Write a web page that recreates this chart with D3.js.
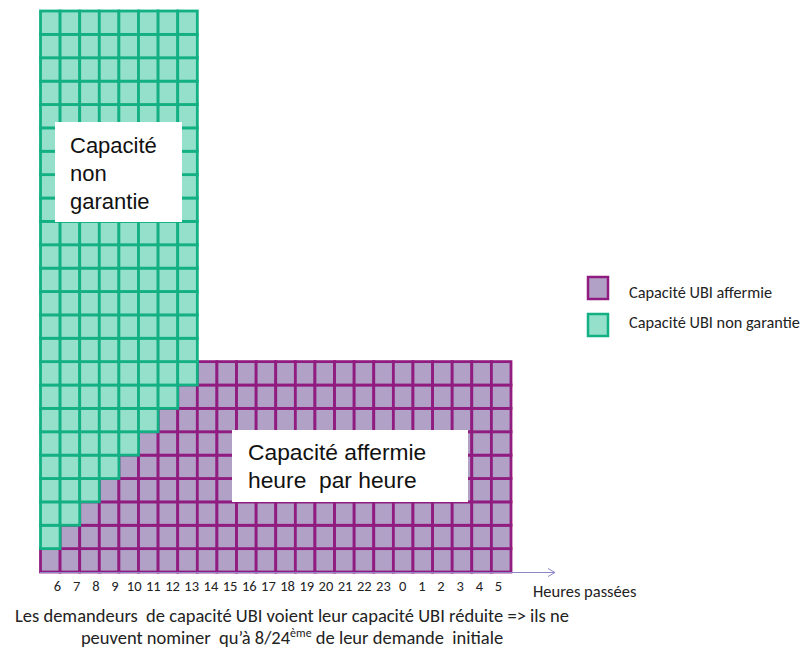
<!doctype html>
<html>
<head>
<meta charset="UTF-8">
<script src="https://cdn.jsdelivr.net/npm/d3@7"></script>
<style>
  body { margin: 0; background: #fff; }
  text { white-space: pre; }
  .cal { font-family: Carlito, Calibri, Lato, sans-serif; fill: #222; }
  .ar { font-family: "Liberation Sans", Arial, sans-serif; fill: #111; }
</style>
</head>
<body>
<div id="chart"></div>
<script>
// hours on the x axis
var heures = ["6","7","8","9","10","11","12","13","14","15","16","17","18","19","20","21","22","23","0","1","2","3","4","5"];
// number of firm (purple) cells per hour
var affermie = [1,2,3,4,5,6,7,8,9,9,9,9,9,9,9,9,9,9,9,9,9,9,9,9];
// number of non guaranteed (green) cells stacked on top
var nonGarantie = [23,22,21,20,19,18,17,16,0,0,0,0,0,0,0,0,0,0,0,0,0,0,0,0];
var legende = ["Capacité UBI affermie", "Capacité UBI non garantie"];

var W = 808, H = 655;
var svg = d3.select("#chart").append("svg")
    .attr("width", W)
    .attr("height", H);

var x = d3.scaleBand()
    .domain(heures)
    .range([40.5, 511])
    .padding(0);
var y = d3.scaleLinear()
    .domain([0, 24])
    .range([572, 11]);

var violet = {fill: "#b2a1c7", stroke: "#901c80"},
    vert = {fill: "#95e0cb", stroke: "#13b083"};

// build one record per cell
var cells = [];
heures.forEach(function(h, i) {
  for (var k = 0; k < affermie[i]; k++) cells.push({h: h, k: k, type: "a"});
  for (var k = 0; k < nonGarantie[i]; k++) cells.push({h: h, k: affermie[i] + k, type: "n"});
});

var grid = svg.append("g");
grid.selectAll("rect.a")
  .data(cells.filter(d => d.type == "a"))
  .enter()
  .append("rect")
    .attr("class", "a")
    .attr("x", d => x(d.h))
    .attr("y", d => y(d.k + 1))
    .attr("width", x.bandwidth())
    .attr("height", y(0) - y(1))
    .attr("fill", violet.fill)
    .attr("stroke", violet.stroke)
    .attr("stroke-width", 2.8);
grid.selectAll("rect.n")
  .data(cells.filter(d => d.type == "n"))
  .enter()
  .append("rect")
    .attr("class", "n")
    .attr("x", d => x(d.h))
    .attr("y", d => y(d.k + 1))
    .attr("width", x.bandwidth())
    .attr("height", y(0) - y(1))
    .attr("fill", vert.fill)
    .attr("stroke", vert.stroke)
    .attr("stroke-width", 2.8);

// axis line with open arrow
svg.append("line")
    .attr("x1", 40).attr("x2", 555)
    .attr("y1", 572.5).attr("y2", 572.5)
    .attr("stroke", "#8c88c8")
    .attr("stroke-width", 1);
svg.append("path")
    .attr("d", "M548,568.5 L555,572.5 L548,576.5")
    .attr("fill", "none")
    .attr("stroke", "#8c88c8")
    .attr("stroke-width", 1);

// tick labels
var xl = d3.scalePoint().domain(heures).range([57, 498]);
var ax = svg.append("g")
    .attr("transform", "translate(0,578)")
    .call(d3.axisBottom(xl).tickSize(0).tickPadding(0));
ax.select(".domain").remove();
ax.selectAll("text")
    .attr("class", "cal")
    .attr("dy", "0.9em")
    .style("font-size", "14.5px");

svg.append("text")
    .attr("class", "cal")
    .attr("x", 533).attr("y", 597)
    .style("font-size", "16.5px")
    .text("Heures passées");

// caption
var cap = svg.append("text")
    .attr("class", "cal")
    .attr("text-anchor", "middle")
    .style("font-size", "18.5px");
cap.append("tspan").attr("x", 292).attr("y", 622)
    .text("Les demandeurs  de capacité UBI voient leur capacité UBI réduite => ils ne");
var l2 = cap.append("tspan").attr("x", 292).attr("y", 644);
l2.append("tspan").text("peuvent nominer  qu’à 8/24");
l2.append("tspan").attr("dy", -7).style("font-size", "12px").text("ème");
l2.append("tspan").attr("dy", 7).text(" de leur demande  initiale");

// white label boxes
svg.append("rect").attr("x", 55).attr("y", 122).attr("width", 127).attr("height", 100).attr("fill", "#fff");
var t1 = svg.append("text").attr("class", "ar").style("font-size", "22px");
["Capacité", "non", "garantie"].forEach(function(s, i) {
  t1.append("tspan").attr("x", 70).attr("y", 153 + i * 28).text(s);
});

svg.append("rect").attr("x", 232).attr("y", 430).attr("width", 236).attr("height", 72).attr("fill", "#fff");
var t2 = svg.append("text").attr("class", "ar").style("font-size", "22.8px");
["Capacité affermie", "heure  par heure"].forEach(function(s, i) {
  t2.append("tspan").attr("x", 248).attr("y", 460 + i * 28).text(s);
});

// legend
var leg = svg.append("g");
[violet, vert].forEach(function(c, i) {
  leg.append("rect")
    .attr("x", 588).attr("y", 277 + i * 37)
    .attr("width", 20).attr("height", 22)
    .attr("fill", c.fill)
    .attr("stroke", c.stroke)
    .attr("stroke-width", 2.5);
  leg.append("text")
    .attr("class", "cal")
    .attr("x", 629).attr("y", 298 + i * 30)
    .style("font-size", "16.3px")
    .text(legende[i]);
});
</script>
</body>
</html>
